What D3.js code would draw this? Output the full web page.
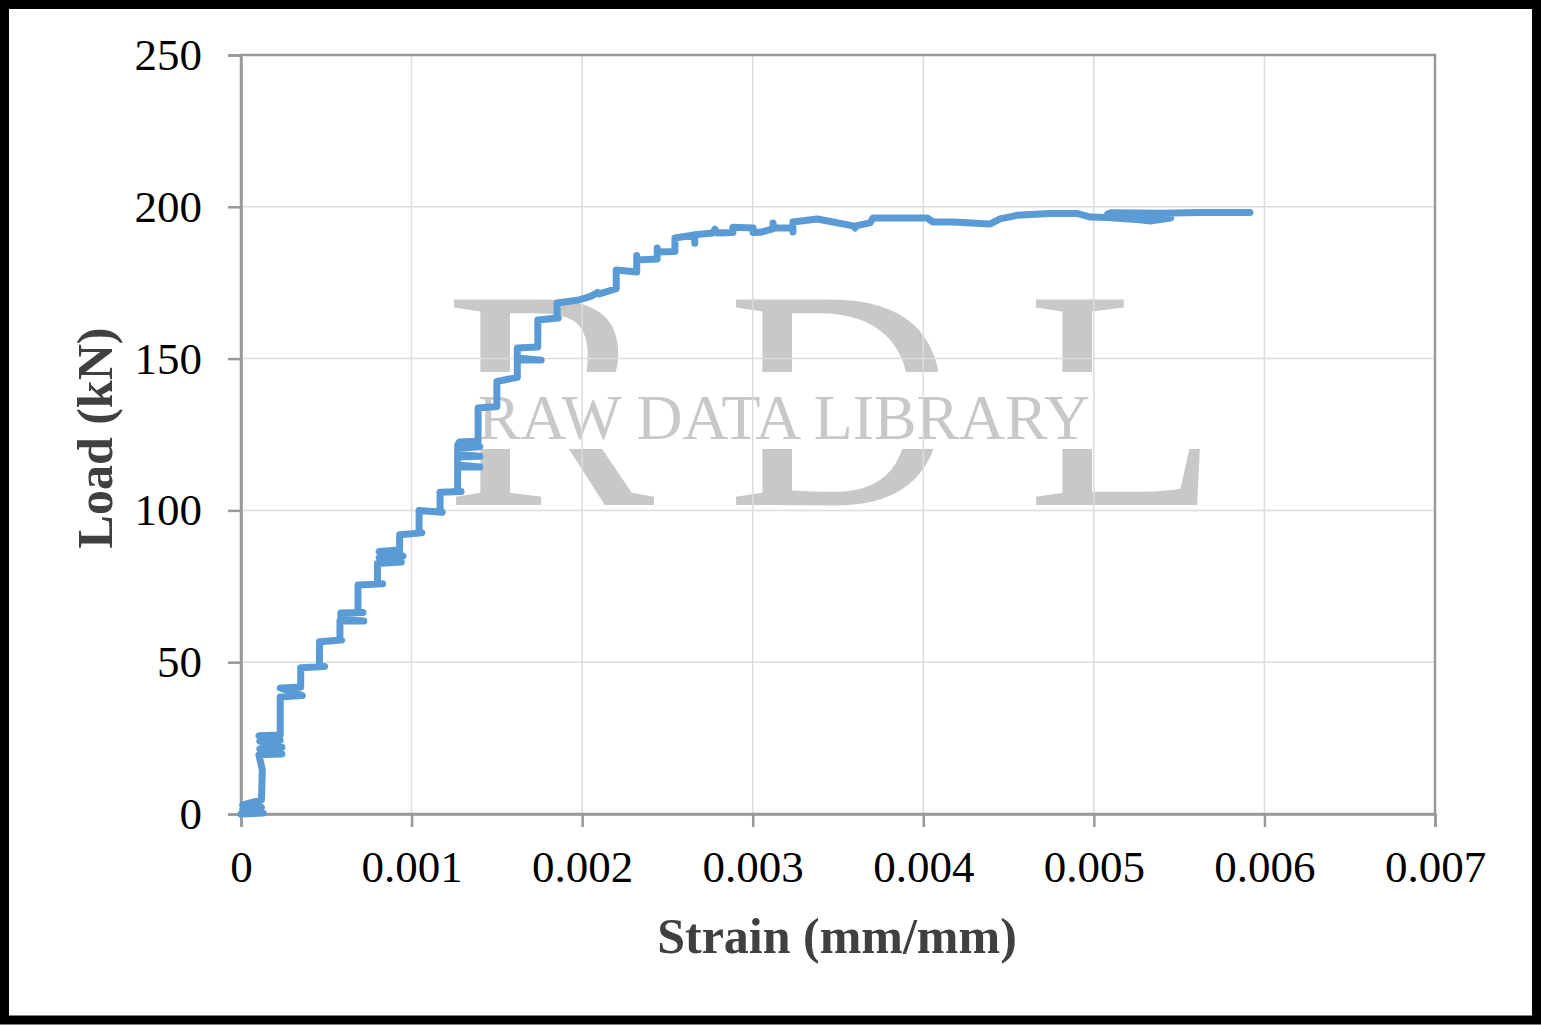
<!DOCTYPE html>
<html><head><meta charset="utf-8">
<script src="https://cdn.jsdelivr.net/npm/d3@7"></script>
<style>html,body{margin:0;padding:0;background:#fff;}svg{display:block;}</style>
</head><body>
<svg id="c" width="1541" height="1025"></svg>
<script>
// Data (strain mm/mm, load kN)
const strain = [0,0.00013,0.00001,0.00012,0.00001,0.00012,0.000125,0.000105,0.00024,0.00011,0.00024,0.00011,0.00023,0.000105,0.00023,
0.00023,0.00036,0.00023,0.00035,0.00035,0.00049,0.00046,0.00046,0.00059,0.00058,0.00058,0.00072,0.000585,0.000585,0.000715,0.000686,0.000686,0.00083,
0.0008,0.0008,0.00094,0.00081,0.00095,0.00081,0.00093,0.00093,0.00106,0.001044,0.001044,0.00118,0.001167,0.001167,0.00129,
0.00127,0.00127,0.0014,0.00127,0.00127,0.0014,0.00127,0.00127,0.0014,0.00127,0.00128,0.00139,
0.00139,0.0015,0.0015,0.00162,0.00162,0.00176,0.00162,0.00162,0.00174,0.00174,0.00186,0.001853,0.001853,0.00198,
0.00205,0.00209,0.0021,0.0022,0.0022,0.00232,0.00232,0.00232,0.00244,0.00244,0.00244,0.002544,
0.002544,0.00266,0.00266,0.00266,0.002767,0.002779,0.00279,0.002884,0.002884,0.003002,0.003002,0.003043,0.003119,0.003119,0.003125,0.003236,0.003236,0.003236,
0.003377,0.003471,0.003588,0.0036,0.00361,0.003688,0.003705,0.004022,0.004057,0.004174,0.00439,0.00445,0.00455,0.00474,0.0049,0.00498,0.00508,0.00527,0.00533,0.00545,0.0052,0.00508,0.0051,0.0054,0.00562,0.005915];
const load = [0,0.3,1.5,2.2,3,4.6,14.5,19.5,19.8,21.5,22,24,24.3,25.8,26,
38.5,39,41.5,41.8,48.2,48.6,48.6,56.7,57.3,57.5,63.6,63.6,64.2,66.2,66.4,66.4,75.4,75.8,
75.8,82.5,83,84.5,85,86.5,87,92,92.6,92.6,100,99.4,99.4,106,106.2,
106.2,114.3,114.3,115,117.6,117.8,118.5,120.5,121,121.5,122.5,122.8,
133.7,134.2,142.5,143.8,149.5,149.5,150.2,153.5,153.8,162.7,163.4,163.4,168.3,169.3,
170.5,171.8,171.3,173,179.2,178.5,184,182.5,182.8,186.4,185.1,185.3,
189.7,190.7,188,190.8,191.4,192.6,191.4,191.5,193.3,193,191.5,191.6,192.7,194.7,193,193,191.7,195,
196,195,193.7,193,193.8,194.7,196.3,196.3,195,195,194.3,196,197.2,197.8,197.8,196.6,196.5,195.7,195.3,196.3,197.2,197.6,198,197.9,198.1,198.1];
const xTicks = [0,0.001,0.002,0.003,0.004,0.005,0.006,0.007];
const xTickLabels = ["0","0.001","0.002","0.003","0.004","0.005","0.006","0.007"];
const yTicks = [0,50,100,150,200,250];
const xTitle = "Strain (mm/mm)";
const yTitle = "Load (kN)";

const svg = d3.select("#c");
const L = 241, R = 1435, T = 55, B = 814;
const x = d3.scaleLinear().domain([0,0.007]).range([L,R]);
const y = d3.scaleLinear().domain([0,250]).range([B,T]);

// frame
svg.append("rect").attr("x",4.5).attr("y",4.5).attr("width",1532).attr("height",1015.5)
  .attr("fill","#fff").attr("stroke","#000").attr("stroke-width",9);

// watermark
const wm = svg.append("g").attr("font-family","'Liberation Serif','Times New Roman',serif").attr("fill","#c8c8c8");
[["R",445],["D",727],["L",1027]].forEach(([t,px])=>{
  wm.append("text").attr("x",px).attr("y",505).attr("font-size",314).text(t);
});
wm.append("rect").attr("x",430).attr("y",372).attr("width",800).attr("height",77).attr("fill","#fff");
wm.append("text").attr("x",478).attr("y",439).attr("font-size",64).attr("textLength",612)
  .attr("lengthAdjust","spacingAndGlyphs").text("RAW DATA LIBRARY");

// grid
const g = svg.append("g");
g.selectAll(".gx").data(xTicks.slice(1)).enter().append("line")
  .attr("x1",d=>x(d)).attr("x2",d=>x(d)).attr("y1",T).attr("y2",B)
  .attr("stroke","#dcdcdc").attr("stroke-width",1.5);
g.selectAll(".gy").data(yTicks.slice(1)).enter().append("line")
  .attr("y1",d=>y(d)).attr("y2",d=>y(d)).attr("x1",L).attr("x2",R)
  .attr("stroke","#dcdcdc").attr("stroke-width",1.5);
svg.append("rect").attr("x",L).attr("y",T).attr("width",R-L).attr("height",B-T)
  .attr("fill","none").attr("stroke","#999").attr("stroke-width",2.5);

// axes
const fontF = "'Liberation Serif','Times New Roman',serif";
const ax = svg.append("g").attr("transform",`translate(0,${B})`)
  .call(d3.axisBottom(x).tickValues(xTicks).tickFormat((d,i)=>xTickLabels[i]).tickSize(13).tickPadding(23));
const ay = svg.append("g").attr("transform",`translate(${L},0)`)
  .call(d3.axisLeft(y).tickValues(yTicks).tickSize(13).tickPadding(26));
[ax,ay].forEach(a=>{
  a.select(".domain").attr("stroke","#999").attr("stroke-width",2.5);
  a.selectAll(".tick line").attr("stroke","#999").attr("stroke-width",2.5);
  a.selectAll(".tick text").attr("font-family",fontF).attr("font-size",45).attr("fill","#000");
});

// curve
const pts = strain.map((s,i)=>[s,load[i]]);
svg.append("path").datum(pts)
  .attr("d",d3.line().x(d=>x(d[0])).y(d=>y(d[1])))
  .attr("fill","none").attr("stroke","#5B9BD5").attr("stroke-width",7)
  .attr("stroke-linejoin","round").attr("stroke-linecap","round");

// titles
svg.append("text").attr("x",837).attr("y",953).attr("text-anchor","middle")
  .attr("font-family",fontF).attr("font-weight","bold").attr("font-size",50).attr("fill","#404040").text(xTitle);
svg.append("text").attr("transform","translate(112,438) rotate(-90)").attr("text-anchor","middle")
  .attr("font-family",fontF).attr("font-weight","bold").attr("font-size",50).attr("fill","#404040").text(yTitle);
</script>
</body></html>
